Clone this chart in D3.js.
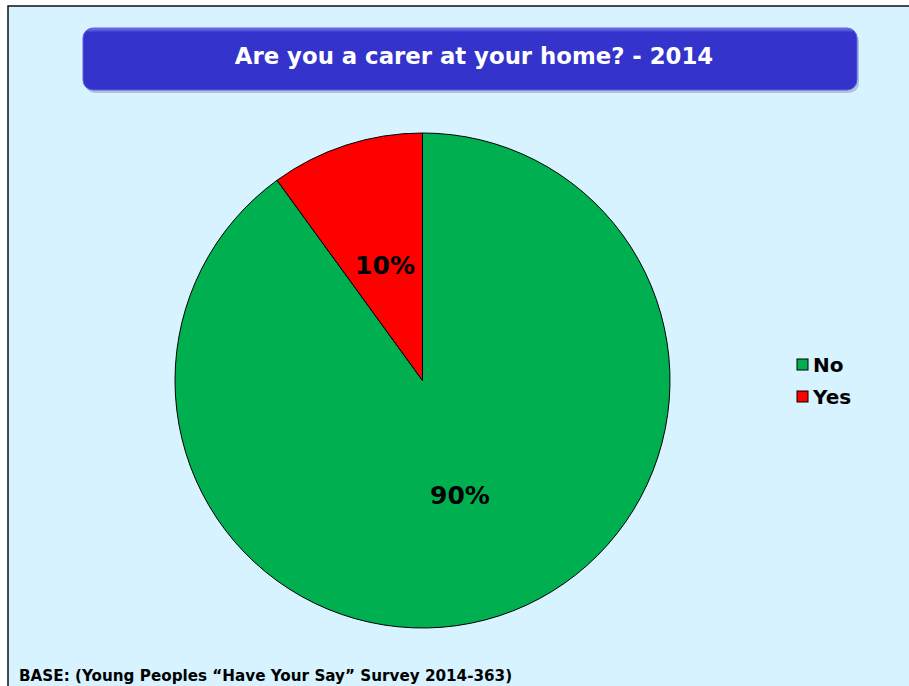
<!DOCTYPE html>
<html>
<head>
<meta charset="utf-8">
<script src="https://cdn.jsdelivr.net/npm/d3@7"></script>
<style>
  html, body { margin: 0; padding: 0; background: #fff; }
  svg { display: block; }
</style>
</head>
<body>
<div id="chart"></div>
<script>
// chart data
var categories = ["No", "Yes"];
var values = [90, 10];
var sliceLabels = ["90%", "10%"];
var colors = ["#00B050", "#FF0000"];
var title = "Are you a carer at your home? - 2014";
var footnote = "BASE: (Young Peoples \u201CHave Your Say\u201D Survey 2014-363)";

var W = 909, H = 686;
var cx = 422.5, cy = 380.5, radius = 247.5;
var font = "Verdana, 'DejaVu Sans', sans-serif";

var svg = d3.select("#chart").append("svg")
  .attr("width", W).attr("height", H);

var defs = svg.append("defs");
var grad = defs.append("linearGradient").attr("id", "titleGrad")
  .attr("x1", 0).attr("y1", 0).attr("x2", 0).attr("y2", 1);
grad.append("stop").attr("offset", "0").attr("stop-color", "#7b7bf0");
grad.append("stop").attr("offset", "0.07").attr("stop-color", "#3434cc");
grad.append("stop").attr("offset", "1").attr("stop-color", "#3333CC");

// background + frame
svg.append("rect").attr("x", 8).attr("y", 6).attr("width", W).attr("height", H)
  .attr("fill", "#D6F3FF").attr("stroke", "#111").attr("stroke-width", 1.5);

// title box
svg.append("rect").attr("x", 85).attr("y", 31).attr("width", 774).attr("height", 62)
  .attr("rx", 10).attr("fill", "#9aa0c8").attr("opacity", 0.6);
svg.append("rect").attr("x", 83).attr("y", 28).attr("width", 774).attr("height", 62)
  .attr("rx", 10).attr("fill", "url(#titleGrad)").attr("stroke", "#5c5ce0").attr("stroke-width", 1);
svg.append("text").attr("x", 474).attr("y", 57)
  .attr("text-anchor", "middle").attr("dominant-baseline", "middle")
  .attr("fill", "#fff").attr("font-family", font).attr("font-weight", "bold")
  .attr("font-size", 22.8).text(title);

// pie
var pie = d3.pie().sort(null).value(function(d){ return d; });
var arc = d3.arc().innerRadius(0).outerRadius(radius);
var arcs = pie(values);
var g = svg.append("g").attr("transform", "translate(" + cx + "," + cy + ")");
g.selectAll("path.slice").data(arcs).enter().append("path")
  .attr("class", "slice")
  .attr("d", arc)
  .attr("fill", function(d, i){ return colors[i]; })
  .attr("stroke", "#000").attr("stroke-width", 1);

var labelArc = d3.arc().innerRadius(radius * 0.49).outerRadius(radius * 0.49);
g.selectAll("text.lbl").data(arcs).enter().append("text")
  .attr("class", "lbl")
  .attr("transform", function(d, i){
    var c = labelArc.centroid(d);
    return "translate(" + c[0] + "," + c[1] + ")";
  })
  .attr("text-anchor", "middle").attr("dominant-baseline", "central")
  .attr("font-family", font).attr("font-weight", "bold").attr("font-size", 25)
  .attr("fill", "#000")
  .text(function(d, i){ return sliceLabels[i]; });

// legend
var legend = svg.append("g").attr("transform", "translate(797,359)");
var item = legend.selectAll("g.item").data(categories).enter().append("g")
  .attr("class", "item")
  .attr("transform", function(d, i){ return "translate(0," + (i * 32) + ")"; });
item.append("rect").attr("width", 11).attr("height", 11)
  .attr("fill", function(d, i){ return colors[i]; })
  .attr("stroke", "#000").attr("stroke-width", 1);
item.append("text").attr("x", 16).attr("y", 6)
  .attr("dominant-baseline", "central")
  .attr("font-family", font).attr("font-weight", "bold").attr("font-size", 20)
  .text(function(d){ return d; });

// footnote
svg.append("text").attr("x", 19).attr("y", 681)
  .attr("font-family", font).attr("font-weight", "bold").attr("font-size", 15.2)
  .text(footnote);
</script>
</body>
</html>
